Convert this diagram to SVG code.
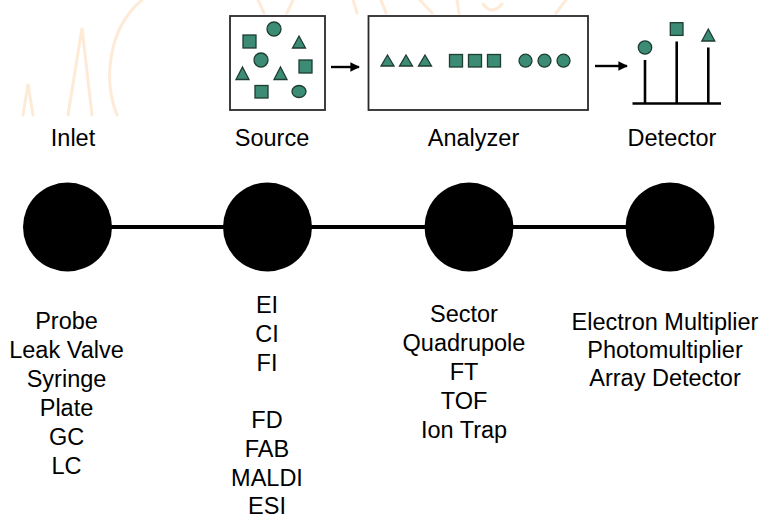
<svg xmlns="http://www.w3.org/2000/svg" width="761" height="521" viewBox="0 0 761 521">
<defs>
<style>
.t{font-family:"Liberation Sans",Arial,sans-serif;font-size:23.5px;fill:#000;text-anchor:middle}
.box{fill:#fff;stroke:#2a2a2a;stroke-width:1.8}
.sh{fill:#3c8b74;stroke:#1e3d33;stroke-width:1.3}
.ln{stroke:#000;stroke-width:2.6;fill:none}
.wm{fill:none;stroke:#fdebd8;stroke-width:3;stroke-linecap:round}
.node{fill:#000}
</style>
<marker id="ah" viewBox="0 0 10 10" refX="9" refY="5" markerWidth="4" markerHeight="4" orient="auto">
<path d="M0,0 L10,5 L0,10 Z" fill="#000"/>
</marker>
</defs>
<rect width="761" height="521" fill="#fff"/>
<g id="watermark">
<path class="wm" d="M117,115 C103,80 108,28 142,0"/>
<path class="wm" d="M68,115 L82,28 L92,115"/>
<path class="wm" d="M23,115 L28,84 L33,115"/>
<path class="wm" d="M258,0 L264,13 M287,13 L293,0 M353,0 L357,13 M381,0 L386,13 M420,0 L432,13 M457,0 L459,13 M483,4 Q492,16 502,4 M556,13 L566,0"/>
</g>
<g id="source-box">
<rect class="box" x="230" y="16" width="95" height="94"/>
<circle class="sh" cx="274" cy="29" r="7"/>
<rect class="sh" x="243" y="35" width="13" height="13"/>
<path class="sh" d="M299,36 L305.5,48 L292.5,48 Z"/>
<circle class="sh" cx="261" cy="60" r="7"/>
<rect class="sh" x="299" y="60" width="13" height="13"/>
<path class="sh" d="M242.5,67 L249,79.5 L236,79.5 Z"/>
<path class="sh" d="M280.5,67 L287,79.5 L274,79.5 Z"/>
<rect class="sh" x="255" y="85.5" width="13" height="12.5"/>
<ellipse class="sh" cx="299" cy="91.5" rx="7" ry="6"/>
</g>
<g id="analyzer-box">
<rect class="box" x="368.5" y="16" width="219.5" height="94"/>
<path class="sh" d="M387.5,55 L394,66 L381,66 Z"/>
<path class="sh" d="M406,55 L412.5,66 L399.5,66 Z"/>
<path class="sh" d="M425,55 L431.5,66 L418.5,66 Z"/>
<rect class="sh" x="449.5" y="54.5" width="13" height="12.5"/>
<rect class="sh" x="468.5" y="54.5" width="13" height="12.5"/>
<rect class="sh" x="487.5" y="54.5" width="13" height="12.5"/>
<circle class="sh" cx="525.5" cy="60.7" r="6.5"/>
<circle class="sh" cx="544.5" cy="60.7" r="6.5"/>
<circle class="sh" cx="563.5" cy="60.7" r="6.5"/>
</g>
<g id="detector-icon">
<line class="ln" x1="632.5" y1="103.5" x2="721" y2="103.5"/>
<line class="ln" x1="645" y1="60" x2="645" y2="103.5"/>
<line class="ln" x1="676.7" y1="41.5" x2="676.7" y2="103.5"/>
<line class="ln" x1="708.3" y1="47.5" x2="708.3" y2="103.5"/>
<circle class="sh" cx="645" cy="47.5" r="6.7"/>
<rect class="sh" x="670.3" y="22.7" width="12.7" height="12.7"/>
<path class="sh" d="M708.3,29 L714.8,41 L701.8,41 Z"/>
</g>
<g id="flow-arrows">
<line x1="331" y1="67" x2="359" y2="67" stroke="#000" stroke-width="2.4" marker-end="url(#ah)"/>
<line x1="595" y1="66" x2="627" y2="66" stroke="#000" stroke-width="2.4" marker-end="url(#ah)"/>
</g>
<g id="connectors">
<line x1="67.5" y1="227" x2="670" y2="227" stroke="#000" stroke-width="4"/>
</g>
<g id="inlet">
<circle class="node" cx="67.5" cy="227" r="44.5"/>
<text class="t" x="73" y="146">Inlet</text>
<text class="t" x="66.5" y="329">Probe</text>
<text class="t" x="66.5" y="358">Leak Valve</text>
<text class="t" x="66.5" y="387">Syringe</text>
<text class="t" x="66.5" y="416">Plate</text>
<text class="t" x="66.5" y="445">GC</text>
<text class="t" x="66.5" y="474">LC</text>
</g>
<g id="source">
<circle class="node" cx="267.5" cy="227" r="44.5"/>
<text class="t" x="272" y="146">Source</text>
<text class="t" x="267" y="313">EI</text>
<text class="t" x="267" y="342">CI</text>
<text class="t" x="267" y="371">FI</text>
<text class="t" x="267" y="428">FD</text>
<text class="t" x="267" y="457">FAB</text>
<text class="t" x="267" y="486">MALDI</text>
<text class="t" x="267" y="514">ESI</text>
</g>
<g id="analyzer">
<circle class="node" cx="469" cy="227" r="44.5"/>
<text class="t" x="473.5" y="146">Analyzer</text>
<text class="t" x="464" y="322">Sector</text>
<text class="t" x="464" y="351">Quadrupole</text>
<text class="t" x="464" y="380">FT</text>
<text class="t" x="464" y="409">TOF</text>
<text class="t" x="464" y="438">Ion Trap</text>
</g>
<g id="detector">
<circle class="node" cx="670" cy="227" r="44.5"/>
<text class="t" x="672" y="146">Detector</text>
<text class="t" x="665" y="330">Electron Multiplier</text>
<text class="t" x="665" y="358">Photomultiplier</text>
<text class="t" x="665" y="386">Array Detector</text>
</g>
</svg>
